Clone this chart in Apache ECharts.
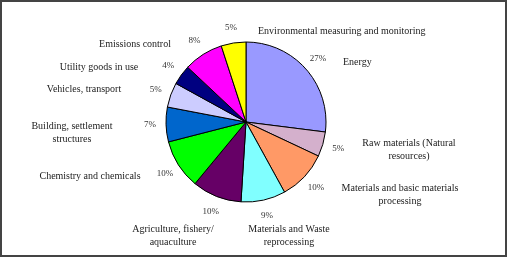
<!DOCTYPE html>
<html><head><meta charset="utf-8">
<script src="https://cdn.jsdelivr.net/npm/echarts@6/dist/echarts.min.js"></script>
<style>html,body{margin:0;padding:0;background:#fff}#c{width:513px;height:258px}</style>
</head><body><div id="c"></div>
<script>
const categories = ['Energy','Raw materials (Natural\nresources)','Materials and basic materials\nprocessing','Materials and Waste\nreprocessing','Agriculture, fishery/\naquaculture','Chemistry and chemicals','Building, settlement\nstructures','Vehicles, transport','Utility goods in use','Emissions control','Environmental measuring and monitoring'];
const values = [27,5,10,9,10,10,7,5,4,8,5];
const colors = ['#9999FF','#D4B0CC','#FF9966','#80FFFF','#660066','#00FF00','#0066CC','#CCCCFF','#000080','#FF00FF','#FFFF00'];
// name label anchor positions (x, y, align)
const namePos = [[343,62,'left'],[409,150,'center'],[400,195,'center'],[289,236,'center'],[173,236,'center'],[90,176,'center'],[72,133,'center'],[84,89,'center'],[99,67,'center'],[135,44,'center'],[258,31,'left']];

const chart = echarts.init(document.getElementById('c'));
const data = categories.map((n,i)=>({name:n,value:values[i],itemStyle:{color:colors[i]}}));
const font = '"Liberation Serif","Times New Roman",serif';
chart.setOption({
  animation:false,
  graphic:[
    {type:'rect',shape:{x:1,y:1,width:505,height:255},style:{fill:'none',stroke:'#444',lineWidth:2},silent:true}
  ].concat(categories.map((n,i)=>({type:'text',x:namePos[i][0],y:namePos[i][1],style:{text:n,font:'10px '+font,fill:'#222',align:namePos[i][2],verticalAlign:'middle',lineHeight:13}}))),
  series:[
    {type:'pie',center:[246,122],radius:[0,80],startAngle:90,clockwise:true,data:data,label:{show:false},labelLine:{show:false},
     itemStyle:{borderColor:'#000',borderWidth:1},silent:true},
    {type:'pie',center:[246,122],radius:[86,100],startAngle:90,clockwise:true,data:data.map(d=>({name:d.name,value:d.value})),
     itemStyle:{color:'rgba(0,0,0,0)'},silent:true,
     label:{show:true,position:'inside',formatter:'{c}%',fontFamily:font,fontSize:9,color:'#333',rotate:0},labelLine:{show:false}}
  ]
});
</script></body></html>
